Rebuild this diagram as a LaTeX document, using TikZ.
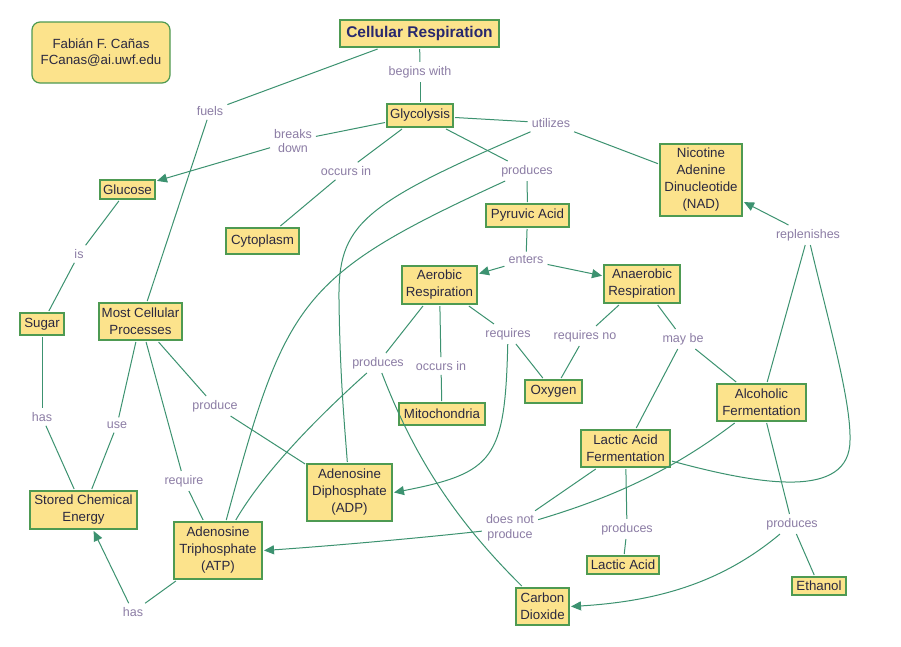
\documentclass[tikz,border=0pt]{standalone}
\usepackage{fontspec}
\setmainfont{Liberation Sans}
\usetikzlibrary{arrows.meta}
\definecolor{boxfill}{HTML}{FCE38C}
\definecolor{boxline}{HTML}{4E9A52}
\definecolor{linkcol}{HTML}{3C9270}
\definecolor{lbltext}{HTML}{8C7DA5}
\definecolor{boxtext}{HTML}{2A2840}
\definecolor{titletext}{HTML}{28286E}
\begin{document}
\begin{tikzpicture}[x=1pt,y=-1pt,
  concept/.style={draw=boxline,fill=boxfill,line width=1.2pt,inner sep=0pt,outer sep=2pt,align=center,text=boxtext,font=\fontsize{13.3}{17}\selectfont},
  sz/.style 2 args={minimum width=#1pt,minimum height=#2pt},
  lbl/.style={text=lbltext,font=\fontsize{12.5}{14.5}\selectfont,inner sep=4pt,align=center},
  link/.style={draw=linkcol,line width=1pt},
  arr/.style={link,-{Triangle[length=10pt,width=9pt]}}]
\fill[white] (0,0) rectangle (901,646);
\useasboundingbox (0,0) rectangle (901,646);
% concepts
\node[concept,sz={138}{61},rounded corners=8pt,font=\fontsize{13.3}{16}\selectfont] (auth) at (101,52.5) {Fabián F. Cañas\\FCanas@ai.uwf.edu};
\node[concept,sz={159}{27},font=\bfseries\fontsize{15.5}{17}\selectfont,text=titletext] (cr) at (419.5,33.5) {Cellular Respiration};
\node[concept,sz={66}{23}] (gly) at (420,115.5) {Glycolysis};
\node[concept,sz={55}{19}] (glu) at (127.5,189.5) {Glucose};
\node[concept,sz={73}{26}] (cyt) at (262.5,241) {Cytoplasm};
\node[concept,sz={44}{22}] (sug) at (42,324) {Sugar};
\node[concept,sz={83}{37}] (mcp) at (140.5,321.5) {Most Cellular\\Processes};
\node[concept,sz={83}{23}] (pyr) at (527.5,215.5) {Pyruvic Acid};
\node[concept,sz={82}{72}] (nad) at (701,180) {Nicotine\\Adenine\\Dinucleotide\\(NAD)};
\node[concept,sz={75}{38}] (aer) at (439.5,285) {Aerobic\\Respiration};
\node[concept,sz={76}{38}] (ana) at (642,284) {Anaerobic\\Respiration};
\node[concept,sz={57}{23}] (oxy) at (553.5,391.5) {Oxygen};
\node[concept,sz={86}{22}] (mit) at (442,414) {Mitochondria};
\node[concept,sz={89}{37}] (alc) at (761.5,402.5) {Alcoholic\\Fermentation};
\node[concept,sz={89}{37}] (laf) at (625.5,448.5) {Lactic Acid\\Fermentation};
\node[concept,sz={72}{18}] (lac) at (623,565) {Lactic Acid};
\node[concept,sz={54}{18}] (eth) at (819,586) {Ethanol};
\node[concept,sz={53}{37}] (co2) at (542.5,606.5) {Carbon\\Dioxide};
\node[concept,sz={107}{38}] (sce) at (83.5,510) {Stored Chemical\\Energy};
\node[concept,sz={88}{57}] (atp) at (218,550.5) {Adenosine\\Triphosphate\\(ATP)};
\node[concept,sz={85}{57}] (adp) at (349.5,492.5) {Adenosine\\Diphosphate\\(ADP)};
% linking phrases
\node[lbl] (bw) at (420,72) {begins with};
\node[lbl] (fu) at (210,111) {fuels};
\node[lbl] (bd) at (293,141) {breaks\\down};
\node[lbl] (oc1) at (346,171) {occurs in};
\node[lbl] (ut) at (551,123) {utilizes};
\node[lbl] (pr1) at (527,171) {produces};
\node[lbl] (is) at (79,254) {is};
\node[lbl] (en) at (526,260) {enters};
\node[lbl] (rep) at (808,235) {replenishes};
\node[lbl] (rq) at (508,334) {requires};
\node[lbl] (rqn) at (585,336) {requires no};
\node[lbl] (mb) at (683,339) {may be};
\node[lbl] (pr2) at (378,363) {produces};
\node[lbl] (oc2) at (441,366) {occurs in};
\node[lbl] (has1) at (42,417) {has};
\node[lbl] (use) at (117,425) {use};
\node[lbl] (pro) at (215,406) {produce};
\node[lbl] (req) at (184,481) {require};
\node[lbl] (has2) at (133,612) {has};
\node[lbl] (dnp) at (510,528) {does not\\produce};
\node[lbl] (pr3) at (627,529) {produces};
\node[lbl] (pr4) at (792,524) {produces};
% connectors
\draw[link] (cr) -- (bw); \draw[link] (bw) -- (gly);
\draw[link] (cr) -- (fu); \draw[link] (fu) -- (mcp);
\draw[link] (gly) -- (bd); \draw[arr] (bd) -- (glu);
\draw[link] (gly) -- (oc1); \draw[link] (oc1) -- (cyt);
\draw[link] (gly) -- (ut); \draw[link] (ut) -- (nad);
\draw[link] (ut) .. controls (360,205) and (338,225) .. (339,300) .. controls (340,380) and (345,430) .. (adp);
\draw[link] (gly) -- (pr1); \draw[link] (pr1) -- (pyr);
\draw[link] (pr1) .. controls (298,276) and (286,300) .. (atp);
\draw[link] (pyr) -- (en); \draw[arr] (en) -- (aer); \draw[arr] (en) -- (ana);
\draw[link] (glu) -- (is); \draw[link] (is) -- (sug);
\draw[link] (sug) -- (has1); \draw[link] (has1) -- (sce);
\draw[link] (mcp) -- (use); \draw[link] (use) -- (sce);
\draw[link] (mcp) -- (req); \draw[link] (req) -- (atp);
\draw[link] (mcp) -- (pro); \draw[link] (pro) -- (adp);
\draw[link] (atp) -- (has2); \draw[arr] (has2) -- (sce);
\draw[link] (aer) -- (pr2);
\draw[link] (pr2) .. controls (320,415) and (265,470) .. (atp);
\draw[link] (pr2) .. controls (414,457) and (456,521) .. (co2);
\draw[link] (aer) -- (oc2); \draw[link] (oc2) -- (mit);
\draw[link] (aer) -- (rq); \draw[link] (rq) -- (oxy);
\draw[arr] (rq) .. controls (505,459) and (494,473) .. (adp.east);
\draw[link] (ana) -- (rqn); \draw[link] (rqn) -- (oxy);
\draw[link] (ana) -- (mb); \draw[link] (mb) -- (laf); \draw[link] (mb) -- (alc);
\draw[link] (laf) -- (dnp);
\draw[link] (alc) .. controls (677,467) and (618,496) .. (dnp);
\draw[arr] (dnp) .. controls (420,538) and (330,546) .. (atp.east);
\draw[link] (laf) -- (pr3); \draw[link] (pr3) -- (lac);
\draw[link] (alc) -- (pr4); \draw[link] (pr4) -- (eth);
\draw[arr] (pr4) .. controls (725,580) and (663,601) .. (co2.east);
\draw[link] (alc) -- (rep);
\draw[link] (laf) .. controls (760,485) and (850,500) .. (850,440) .. controls (851,400) and (828,320) .. (rep);
\draw[arr] (rep) -- (nad);
\end{tikzpicture}
\end{document}
